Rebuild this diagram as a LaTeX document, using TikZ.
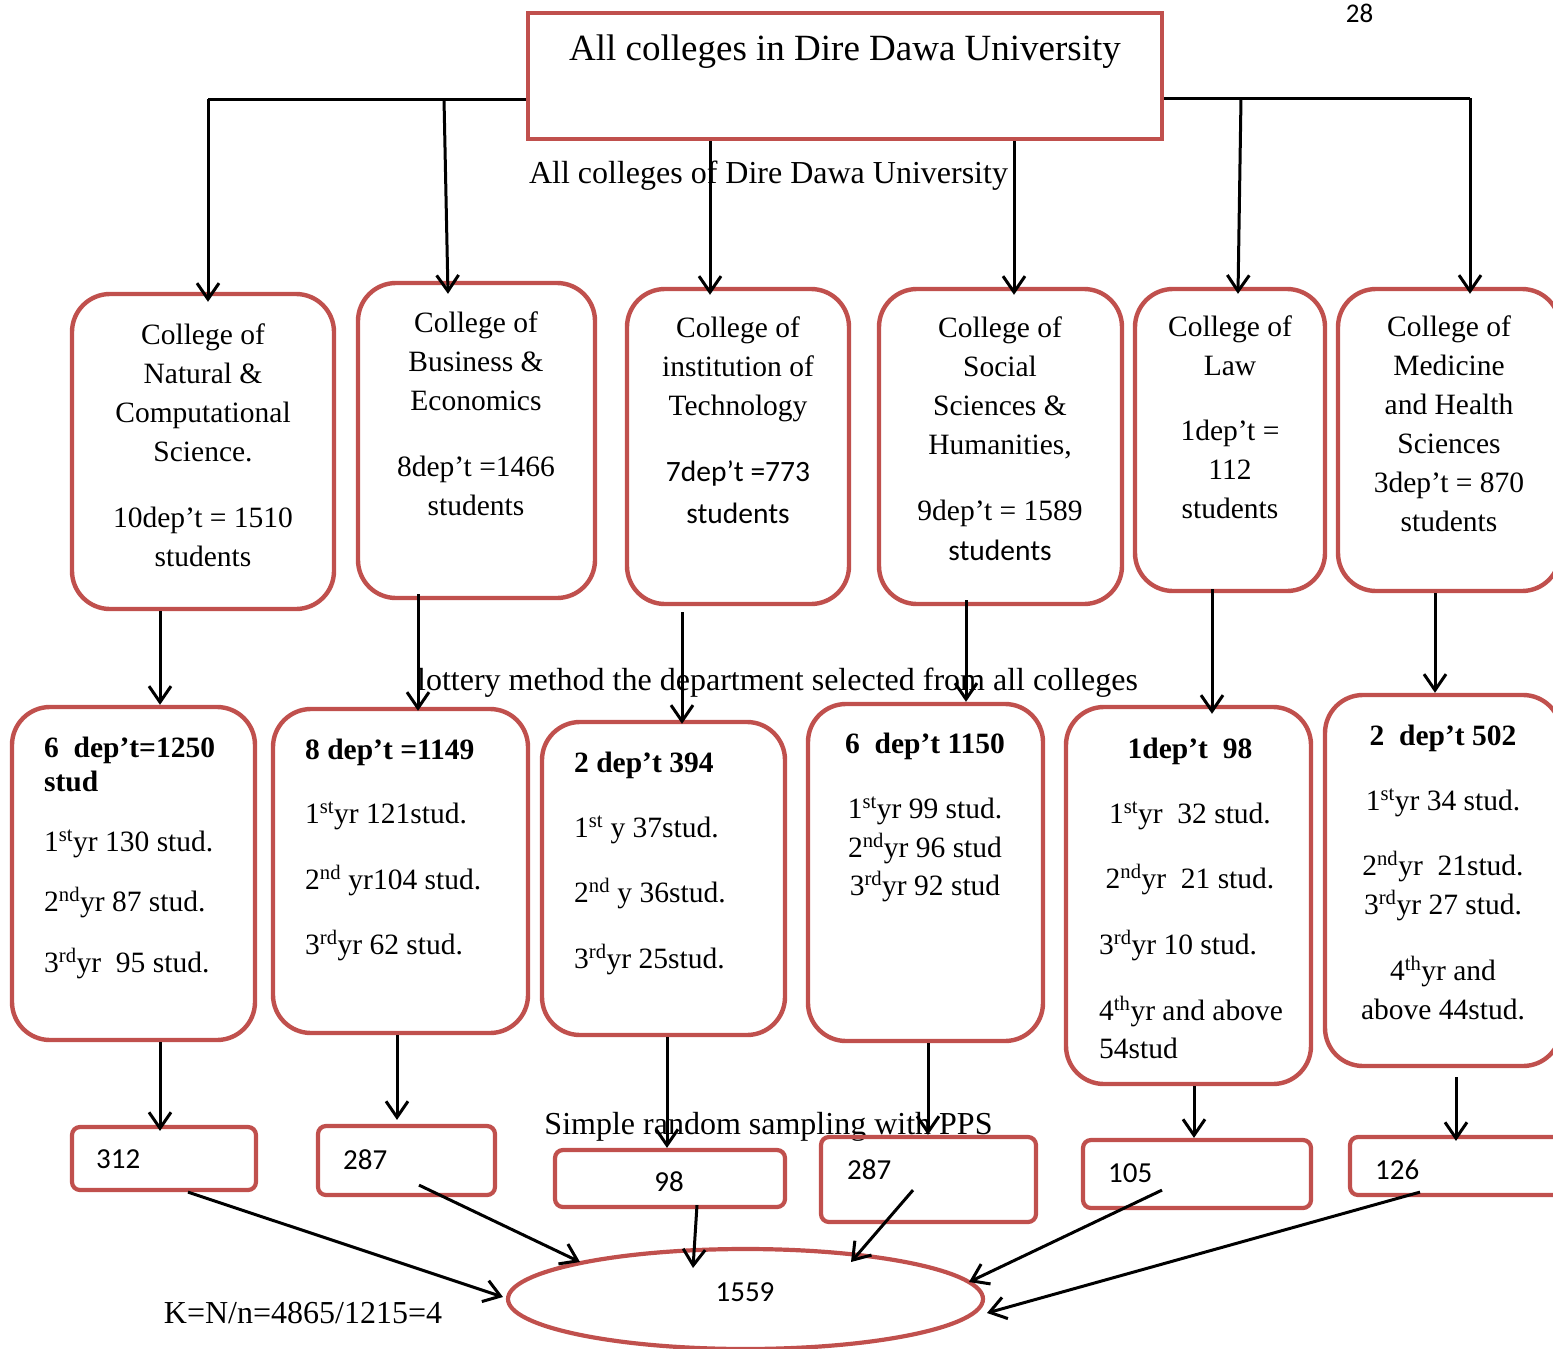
\documentclass[tikz,border=0pt]{standalone}
\usepackage{fontspec}
\setmainfont{Liberation Serif}
\newfontfamily\calib{Carlito}
\usetikzlibrary{arrows.meta,calc,shapes.geometric}
\definecolor{dred}{RGB}{192,80,77}
\newcommand\fsb{\fontsize{29.5}{39}\selectfont}
\newcommand\sps[1]{\textsuperscript{#1}}
\begin{document}
\begin{tikzpicture}[x=1pt,y=-1pt,
  conn/.style={line width=3pt,draw=black},
  arr/.style={conn,-{Straight Barb[length=16pt,width=22pt]}},
  titlebox/.style={draw=dred,line width=4.2pt,inner sep=0pt,rectangle},
  bigbox/.style={draw=dred,line width=4.4pt,rounded corners=38pt,inner sep=0pt,rectangle},
  smallbox/.style={draw=dred,line width=4.2pt,rounded corners=8pt,inner sep=0pt,rectangle},
  ellbox/.style={draw=dred,line width=4.2pt,ellipse,inner sep=0pt},
  ctext/.style={align=center,inner sep=0pt,font=\fsb},
  ln/.style={inner sep=0pt,font=\fsb,anchor=base west},
  lnc/.style={inner sep=0pt,font=\fsb,anchor=base},
  num/.style={inner sep=0pt,font=\calib\fontsize{29}{35}\selectfont,anchor=base west},
  numc/.style={inner sep=0pt,font=\calib\fontsize{29}{35}\selectfont,anchor=base},
  lbl/.style={inner sep=0pt,font=\fontsize{32}{38}\selectfont,anchor=base},
]
\useasboundingbox (0,0) rectangle (1553,1349);

% page number
\node[inner sep=0pt,font=\calib\fontsize{27}{32}\selectfont,anchor=base] (pg) at (1359.5,22) {28};

% title
\node[titlebox,minimum width=634pt,minimum height=126pt] (title) at (845,76) {};
\node[inner sep=0pt,font=\fontsize{37}{44}\selectfont,anchor=base] (tt) at (845,60) {All colleges in Dire Dawa University};

% free labels
\node[lbl] (lab1) at (768.5,183) {All colleges of Dire Dawa University};
\node[lbl] (lab2) at (777.5,690) {lottery method the department selected from all colleges};
\node[lbl] (lab3) at (768.5,1134) {Simple random sampling with PPS};
\node[lbl] (lab4) at (303,1323) {K=N/n=4865/1215=4};

% row 1 boxes
\node[bigbox,minimum width=262pt,minimum height=315pt] (c1) at (203,451.5) {};
\node[bigbox,minimum width=237pt,minimum height=315pt] (c2) at (476.5,440.5) {};
\node[bigbox,minimum width=222pt,minimum height=315pt] (c3) at (738,446.5) {};
\node[bigbox,minimum width=243pt,minimum height=315pt] (c4) at (1000.5,446.5) {};
\node[bigbox,minimum width=190pt,minimum height=302pt] (c5) at (1230,440) {};
\node[bigbox,minimum width=222pt,minimum height=302pt] (c6) at (1449,440) {};

\node[ctext] (c1t) at (203,445) {College of\\Natural \&\\Computational\\Science.\\[27pt]10dep’t = 1510\\students};
\node[ctext] (c2t) at (476,413.5) {College of\\Business \&\\Economics\\[27pt]8dep’t =1466\\students};
\node[ctext] (c3t) at (738,420) {College of\\institution of\\Technology\\[27pt]{\calib 7dep’t =773}\\[3pt]{\calib students}};
\node[ctext] (c4t) at (1000,438.5) {College of\\Social\\Sciences \&\\Humanities,\\[27pt]9dep’t = 1589\\[1pt]{\calib students}};
\node[ctext] (c5t) at (1230,417.5) {College of\\Law\\[26pt]1dep’t =\\112\\students};
\node[ctext] (c6t) at (1449,424) {College of\\Medicine\\and Health\\Sciences\\3dep’t = 870\\students};

% row 2 boxes
\node[bigbox,minimum width=243pt,minimum height=333pt] (d1) at (133.5,873.5) {};
\node[bigbox,minimum width=255pt,minimum height=324pt] (d2) at (400.5,871) {};
\node[bigbox,minimum width=243pt,minimum height=313pt] (d3) at (663.5,878.5) {};
\node[bigbox,minimum width=235pt,minimum height=337pt] (d4) at (925.5,872.5) {};
\node[bigbox,minimum width=245pt,minimum height=377pt] (d5) at (1188.5,895.5) {};
\node[bigbox,minimum width=236pt,minimum height=371pt] (d6) at (1443,880.5) {};

\node[ln,font=\fsb\bfseries] (d1a) at (44,757) {6\ \ dep’t=1250};
\node[ln,font=\fsb\bfseries] (d1b) at (44,791) {stud};
\node[ln] (d1c) at (44,851) {1\sps{st}yr 130 stud.};
\node[ln] (d1d) at (44,911) {2\sps{nd}yr 87 stud.};
\node[ln] (d1e) at (44,972) {3\sps{rd}yr\ \ 95 stud.};

\node[ln,font=\fsb\bfseries] (d2a) at (305,759) {8 dep’t =1149};
\node[ln] (d2b) at (305,823) {1\sps{st}yr 121stud.};
\node[ln] (d2c) at (305,889) {2\sps{nd} yr104 stud.};
\node[ln] (d2d) at (305,954) {3\sps{rd}yr 62 stud.};

\node[ln,font=\fsb\bfseries] (d3a) at (574,772) {2 dep’t 394};
\node[ln] (d3b) at (574,837) {1\sps{st} y 37stud.};
\node[ln] (d3c) at (574,902) {2\sps{nd} y 36stud.};
\node[ln] (d3d) at (574,968) {3\sps{rd}yr 25stud.};

\node[lnc,font=\fsb\bfseries] (d4a) at (925,753) {6\ \ dep’t 1150};
\node[lnc] (d4b) at (925,818) {1\sps{st}yr 99 stud.};
\node[lnc] (d4c) at (925,857) {2\sps{nd}yr 96 stud};
\node[lnc] (d4d) at (925,895) {3\sps{rd}yr 92 stud};

\node[lnc,font=\fsb\bfseries] (d5a) at (1190,758) {1dep’t\ \ 98};
\node[lnc] (d5b) at (1190,823) {1\sps{st}yr\ \ 32 stud.};
\node[lnc] (d5c) at (1190,888) {2\sps{nd}yr\ \ 21 stud.};
\node[ln] (d5d) at (1099,954) {3\sps{rd}yr 10 stud.};
\node[ln] (d5e) at (1099,1020) {4\sps{th}yr and above};
\node[ln] (d5f) at (1099,1058) {54stud};

\node[lnc,font=\fsb\bfseries] (d6a) at (1443,745) {2\ \ dep’t 502};
\node[lnc] (d6b) at (1443,810) {1\sps{st}yr 34 stud.};
\node[lnc] (d6c) at (1443,875) {2\sps{nd}yr\ \ 21stud.};
\node[lnc] (d6d) at (1443,914) {3\sps{rd}yr 27 stud.};
\node[lnc] (d6e) at (1443,980) {4\sps{th}yr and};
\node[lnc] (d6f) at (1443,1019) {above 44stud.};

% row 3 boxes
\node[smallbox,minimum width=184pt,minimum height=63pt] (e1) at (164,1158.5) {};
\node[smallbox,minimum width=177pt,minimum height=69pt] (e2) at (406.5,1160.5) {};
\node[smallbox,minimum width=230pt,minimum height=57pt] (e3) at (670,1178.5) {};
\node[smallbox,minimum width=215pt,minimum height=85pt] (e4) at (928.5,1179.5) {};
\node[smallbox,minimum width=228pt,minimum height=68pt] (e5) at (1197,1174) {};
\node[smallbox,minimum width=240pt,minimum height=58pt] (e6) at (1470,1166) {};

\node[num] (e1t) at (96,1168) {312};
\node[num] (e2t) at (343,1169) {287};
\node[numc] (e3t) at (669,1191) {98};
\node[num] (e4t) at (847,1179) {287};
\node[num] (e5t) at (1108,1182) {105};
\node[num] (e6t) at (1375,1179) {126};

% ellipse
\node[ellbox,minimum width=475pt,minimum height=100pt] (ell) at (745.5,1299) {};
\node[numc] (ellt) at (745,1301) {1559};

% top connectors
\coordinate (jL) at (208,99);
\coordinate (jB) at (444,99);
\coordinate (jC) at (1241,98);
\coordinate (jR) at (1470,98);
\draw[conn] (jL) -- (title.west |- jL);
\draw[conn] (title.east |- jR) -- (jR);
\draw[arr] (jL) -- ($(c1.north -| jL)+(0,10)$);
\draw[arr] (jB) -- ($(c2.north)+(-28.5,13)$);
\draw[arr] (title.south -| 710,0) -- ($(c3.north)+(-28,8)$);
\draw[arr] (title.south -| 1014,0) -- ($(c4.north)+(13.5,8)$);
\draw[arr] (jC) -- ($(c5.north)+(8,7)$);
\draw[arr] (jR) -- ($(c6.north)+(21,7)$);

% row1 -> row2
\draw[arr] (c1.south -| 160,0) -- (d1.north -| 160,0);
\draw[arr] ($(c2.south -| 418,0)+(0,-6)$) -- ($(d2.north -| 418,0)+(0,4)$);
\draw[arr] ($(c3.south -| 682,0)+(0,6)$) -- ($(d3.north -| 682,0)+(0,4)$);
\draw[arr] ($(c4.south -| 966,0)+(0,-6)$) -- (d4.north -| 966,0);
\draw[arr] ($(c5.south -| 1212,0)+(0,-4)$) -- ($(d5.north -| 1212,0)+(0,9)$);
\draw[arr] (c6.south -| 1435,0) -- (d6.north -| 1435,0);

% row2 -> row3
\draw[arr] (d1.south -| 160,0) -- ($(e1.north -| 160,0)+(0,6)$);
\draw[arr] (d2.south -| 397,0) -- ($(e2.north -| 397,0)+(0,-4)$);
\draw[arr] (d3.south -| 667,0) -- (e3.north -| 667,0);
\draw[arr] (d4.south -| 928,0) -- (e4.north -| 928,0);
\draw[arr] (d5.south -| 1194,0) -- (e5.north -| 1194,0);
\draw[arr] ($(d6.south -| 1456,0)+(0,9)$) -- ($(e6.north -| 1456,0)+(0,6)$);

% row3 -> ellipse
\draw[arr] ($(e1.south)+(24,0)$) -- ($(ell.center)+(-242.5,-2)$);
\draw[arr] ($(e2.south)+(12.5,-12)$) -- ($(ell.center)+(-165.5,-37)$);
\draw[arr] ($(e3.south)+(27,-4)$) -- ($(ell.center)+(-52.5,-31)$);
\draw[arr] ($(e4.south)+(-15.5,-34)$) -- ($(ell.center)+(105.5,-37)$);
\draw[arr] ($(e5.south)+(-35,-20)$) -- ($(ell.center)+(223.5,-17)$);
\draw[arr] ($(e6.south)+(-50,-5)$) -- ($(ell.center)+(241.5,14)$);
\end{tikzpicture}
\end{document}
